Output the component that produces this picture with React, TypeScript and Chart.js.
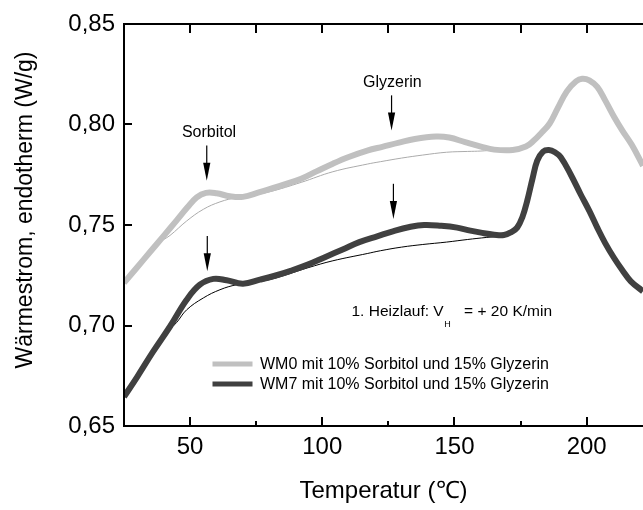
import React, { useEffect, useRef } from "react";
import { Chart, registerables } from "chart.js";

Chart.register(...registerables);

const FONT = "'Liberation Sans', Arial, Helvetica, sans-serif";

// Axis ticks
const xMajorTicks = [50, 100, 150, 200];
const xMinorTicks = [75, 125, 175];
const yTicks = [0.65, 0.7, 0.75, 0.8, 0.85];
const yTickLabels = ["0,65", "0,70", "0,75", "0,80", "0,85"];

// WM0 measured curve
const wm0Temp = [25, 30, 35, 40, 45, 49, 52.5, 56, 60, 65, 70, 76, 84, 92, 98, 104, 110, 117, 123, 129, 135, 143, 148, 154, 160, 165, 172, 177, 180, 183, 186, 189, 192.5, 196, 198.3, 201, 204, 207, 210.5, 213.5, 217, 221.3];
const wm0Flow = [0.7212, 0.729, 0.7368, 0.7446, 0.7524, 0.7588, 0.7638, 0.766, 0.7658, 0.7643, 0.764, 0.7662, 0.7695, 0.773, 0.7768, 0.7805, 0.7838, 0.787, 0.789, 0.791, 0.7928, 0.794, 0.7935, 0.7912, 0.789, 0.7875, 0.7873, 0.789, 0.792, 0.796, 0.8005, 0.808, 0.8165, 0.8215, 0.8228, 0.822, 0.8187, 0.812, 0.8035, 0.797, 0.79, 0.7795];

// WM0 baseline
const wm0BaseTemp = [25, 30, 35, 38, 42.4, 48.7, 55, 61.3, 67.6, 72, 80, 92, 104, 117, 122, 130, 138, 147, 155, 160, 165];
const wm0BaseFlow = [0.7212, 0.729, 0.7366, 0.741, 0.7448, 0.752, 0.7578, 0.7615, 0.7637, 0.7645, 0.7665, 0.7712, 0.7765, 0.7803, 0.7815, 0.7833, 0.7848, 0.7862, 0.7866, 0.7868, 0.7873];

// WM7 measured curve
const wm7Temp = [25, 30, 36, 42.4, 48.7, 53.7, 58.8, 63.8, 70, 76.4, 82.7, 88, 94.5, 101, 107.7, 114, 121, 127, 133, 138.5, 145, 151, 156, 160, 165, 168.7, 171.5, 173.7, 175.7, 177.5, 179.5, 181.3, 183.5, 185.7, 188, 190.2, 194, 197.7, 201, 204, 207, 210.3, 213.5, 216.7, 221.3];
const wm7Flow = [0.6645, 0.6745, 0.687, 0.6995, 0.7128, 0.7203, 0.7232, 0.7225, 0.7208, 0.7228, 0.725, 0.7272, 0.7303, 0.734, 0.7378, 0.7415, 0.7445, 0.747, 0.749, 0.75, 0.7496, 0.7487, 0.7472, 0.7462, 0.7452, 0.745, 0.7465, 0.7487, 0.754, 0.762, 0.773, 0.782, 0.7865, 0.7873, 0.7862, 0.7837, 0.775, 0.7653, 0.757, 0.7487, 0.741, 0.7337, 0.7275, 0.722, 0.717];

// WM7 baseline
const wm7BaseTemp = [25, 30, 36, 40, 44.9, 48.7, 55, 61.3, 67.6, 74, 80, 87, 94.5, 104, 117, 122, 130, 138, 147, 155, 162, 168.7, 172];
const wm7BaseFlow = [0.6645, 0.6745, 0.687, 0.6948, 0.7015, 0.7078, 0.7137, 0.7178, 0.7203, 0.7215, 0.7228, 0.7255, 0.7287, 0.7322, 0.7358, 0.7372, 0.739, 0.7403, 0.7415, 0.7428, 0.7438, 0.7447, 0.746];

const seriesLabels = [
  "WM0 mit 10% Sorbitol und 15% Glyzerin",
  "WM7 mit 10% Sorbitol und 15% Glyzerin",
];
const seriesColors = ["#c0c0c0", "#404040"];
const baseColors = ["#ababab", "#000000"];

// Annotation arrows (temperature, top value, tip value)
const arrowTemp = [56.3, 56.5, 126.2, 126.9];
const arrowTop = [0.7895, 0.7445, 0.8145, 0.7705];
const arrowTip = [0.772, 0.727, 0.797, 0.753];

const peakLabels = ["Sorbitol", "Glyzerin"];
const peakLabelTemp = [57.15, 126.5];
const peakLabelValue = [0.7938, 0.8185];

const xTitle = "Temperatur (\u2103)";
const yTitle = "W\u00e4rmestrom, endotherm (W/g)";

const zip = (xs: number[], ys: number[]) => xs.map((x, i) => ({ x, y: ys[i] }));

const decorPlugin = {
  id: "decor",
  afterDatasetsDraw(chart: any) {
    const { ctx, chartArea: a, scales } = chart;
    const xs = scales.x;
    const ys = scales.y;
    ctx.save();

    // frame (left, top, bottom)
    ctx.strokeStyle = "#000";
    ctx.lineWidth = 2;
    ctx.lineCap = "square";
    ctx.beginPath();
    ctx.moveTo(a.right + 2, a.top);
    ctx.lineTo(a.left, a.top);
    ctx.lineTo(a.left, a.bottom);
    ctx.lineTo(a.right + 2, a.bottom);
    ctx.stroke();

    // ticks (inward)
    ctx.lineCap = "butt";
    ctx.lineWidth = 2;
    ctx.beginPath();
    xMajorTicks.forEach((v) => {
      const px = Math.round(xs.getPixelForValue(v));
      ctx.moveTo(px, a.bottom);
      ctx.lineTo(px, a.bottom - 9);
      ctx.moveTo(px, a.top);
      ctx.lineTo(px, a.top + 9);
    });
    xMinorTicks.forEach((v) => {
      const px = Math.round(xs.getPixelForValue(v));
      ctx.moveTo(px, a.bottom);
      ctx.lineTo(px, a.bottom - 5);
      ctx.moveTo(px, a.top);
      ctx.lineTo(px, a.top + 9);
    });
    yTicks.forEach((v) => {
      const py = Math.round(ys.getPixelForValue(v));
      ctx.moveTo(a.left, py);
      ctx.lineTo(a.left + 8, py);
    });
    ctx.stroke();

    // arrows
    ctx.fillStyle = "#000";
    ctx.strokeStyle = "#000";
    ctx.lineWidth = 1.2;
    arrowTemp.forEach((t, i) => {
      const px = xs.getPixelForValue(t);
      const pTop = ys.getPixelForValue(arrowTop[i]);
      const pTip = ys.getPixelForValue(arrowTip[i]);
      ctx.beginPath();
      ctx.moveTo(px, pTop);
      ctx.lineTo(px, pTip - 10);
      ctx.stroke();
      ctx.beginPath();
      ctx.moveTo(px - 3.6, pTip - 18);
      ctx.lineTo(px + 3.6, pTip - 18);
      ctx.lineTo(px, pTip);
      ctx.closePath();
      ctx.fill();
    });

    // peak labels
    ctx.font = `16px ${FONT}`;
    ctx.textAlign = "center";
    ctx.textBaseline = "alphabetic";
    peakLabels.forEach((s, i) => {
      ctx.fillText(s, xs.getPixelForValue(peakLabelTemp[i]), ys.getPixelForValue(peakLabelValue[i]));
    });

    // heating note
    ctx.textAlign = "left";
    ctx.font = `15.5px ${FONT}`;
    const nx = a.left + 227.5;
    const ny = a.top + 291.5;
    const part1 = "1. Heizlauf: V";
    ctx.fillText(part1, nx, ny);
    const w1 = ctx.measureText(part1).width;
    ctx.font = `9px ${FONT}`;
    ctx.fillText("H", nx + w1 + 0.5, ny + 11);
    ctx.font = `15.5px ${FONT}`;
    ctx.textAlign = "right";
    ctx.fillText("= + 20 K/min", a.left + 428, ny);

    // legend
    ctx.textAlign = "left";
    ctx.textBaseline = "middle";
    ctx.font = `16px ${FONT}`;
    seriesLabels.forEach((s, i) => {
      const ly = a.top + 340 + i * 20;
      ctx.strokeStyle = seriesColors[i];
      ctx.lineWidth = 5;
      ctx.beginPath();
      ctx.moveTo(a.left + 88.5, ly);
      ctx.lineTo(a.left + 128.5, ly);
      ctx.stroke();
      ctx.fillStyle = "#000";
      ctx.fillText(s, a.left + 136, ly + 1);
    });

    // y axis title
    ctx.save();
    ctx.translate(31.5, (a.top + a.bottom) / 2 - 15);
    ctx.rotate(-Math.PI / 2);
    ctx.font = `23px ${FONT}`;
    ctx.textAlign = "center";
    ctx.textBaseline = "alphabetic";
    ctx.fillStyle = "#000";
    ctx.fillText(yTitle, 0, 0);
    ctx.restore();

    ctx.restore();
  },
};

export default function App() {
  const ref = useRef<HTMLCanvasElement>(null);

  useEffect(() => {
    document.body.style.margin = "0";
    const canvas = ref.current;
    if (!canvas) return;
    const line = (label: string, data: any[], color: string, width: number, order: number) => ({
      label,
      data,
      borderColor: color,
      borderWidth: width,
      pointRadius: 0,
      tension: 0.4,
      fill: false,
      order,
    });
    const chart = new Chart(canvas, {
      type: "line",
      data: {
        datasets: [
          line(seriesLabels[0], zip(wm0Temp, wm0Flow), seriesColors[0], 6, 1),
          line(seriesLabels[1], zip(wm7Temp, wm7Flow), seriesColors[1], 6, 1),
          line("WM0 Basislinie", zip(wm0BaseTemp, wm0BaseFlow), baseColors[0], 1, 2),
          line("WM7 Basislinie", zip(wm7BaseTemp, wm7BaseFlow), baseColors[1], 1, 2),
        ],
      },
      options: {
        responsive: false,
        animation: false,
        devicePixelRatio: 1,
        layout: { padding: { top: 24, left: 0, right: 0, bottom: 0 } },
        plugins: {
          legend: { display: false },
          tooltip: { enabled: false },
          title: { display: false },
        },
        scales: {
          x: {
            type: "linear",
            min: 25,
            max: 221.3,
            afterBuildTicks: (s: any) => {
              s.ticks = xMajorTicks.map((v) => ({ value: v }));
            },
            afterFit: (s: any) => {
              s.height = 84;
            },
            grid: { display: false, drawTicks: false },
            border: { display: false },
            ticks: {
              color: "#000",
              font: { family: FONT, size: 24 },
              padding: 7,
              autoSkip: false,
              maxRotation: 0,
              callback: (v: any) => String(v),
            },
            title: {
              display: true,
              text: xTitle,
              color: "#000",
              font: { family: FONT, size: 24 },
              padding: { top: 0, bottom: 4 },
            },
          },
          y: {
            type: "linear",
            min: 0.65,
            max: 0.85,
            afterBuildTicks: (s: any) => {
              s.ticks = yTicks.map((v) => ({ value: v }));
            },
            afterFit: (s: any) => {
              s.width = 124;
            },
            grid: { display: false, drawTicks: false },
            border: { display: false },
            ticks: {
              color: "#000",
              font: { family: FONT, size: 24 },
              padding: 9,
              autoSkip: false,
              callback: (_v: any, i: number) => yTickLabels[i],
            },
            title: { display: false },
          },
        },
      },
      plugins: [decorPlugin],
    } as any);
    return () => chart.destroy();
  }, []);

  return (
    <div style={{ width: 643, height: 510, position: "relative" }}>
      <canvas ref={ref} width={643} height={510} style={{ display: "block" }} />
    </div>
  );
}
